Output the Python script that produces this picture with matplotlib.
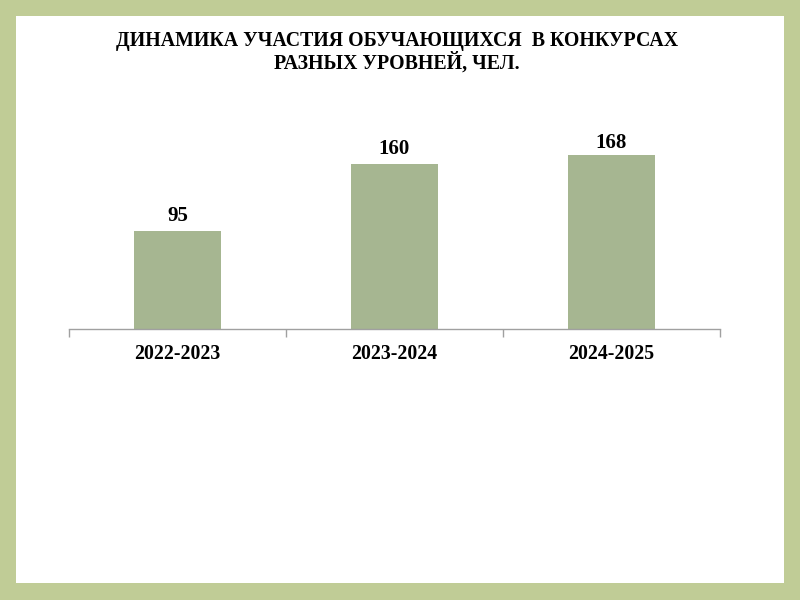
import matplotlib
matplotlib.use("Agg")
import matplotlib.pyplot as plt
from matplotlib.patches import Rectangle

years = ["2022-2023", "2023-2024", "2024-2025"]
counts = [95, 160, 168]
title = "ДИНАМИКА УЧАСТИЯ ОБУЧАЮЩИХСЯ  В КОНКУРСАХ\nРАЗНЫХ УРОВНЕЙ, ЧЕЛ."

W, H = 800, 600
fig = plt.figure(figsize=(8, 6), dpi=100)
fig.patch.set_facecolor("#C0CC96")
fig.patches.append(Rectangle((16 / W, 17 / H), (W - 32) / W, (H - 33) / H,
                             transform=fig.transFigure, facecolor="white",
                             edgecolor="none", zorder=-1))

serif = ["Liberation Serif", "DejaVu Serif"]
bar_color = "#A6B691"

# axes: baseline at y=329 px, x from 69 to 720 px, top at y=143 px (ylim 180)
ax = fig.add_axes([69 / W, 1 - 329 / H, 651 / W, 186 / H])
ax.set_zorder(1)
ax.set_facecolor("none")
x = range(len(years))
bars = ax.bar(x, counts, width=0.4, color=bar_color, zorder=2)
ax.set_xlim(-0.5, len(years) - 0.5)
ax.set_ylim(0, 180)

# labels sit above the bars but are kept inside the plot area (like Excel)
for b, v in zip(bars, counts):
    ax.text(b.get_x() + b.get_width() / 2, min(v + 4.5, 170), str(v),
            ha="center", va="bottom", fontsize=15, fontweight="bold",
            family=serif)

for s in ["top", "right", "left"]:
    ax.spines[s].set_visible(False)
ax.spines["bottom"].set_color("#A0A0A0")
ax.spines["bottom"].set_linewidth(1)
ax.set_yticks([])
ax.set_xticks([-0.5, 0.5, 1.5, 2.5], minor=False)
ax.set_xticklabels([])
ax.tick_params(axis="x", length=6, color="#A0A0A0", width=1)
ax.set_xticks(list(x), minor=True)
ax.set_xticklabels(years, minor=True, fontsize=14.3, fontweight="bold",
                   family=serif)
ax.tick_params(axis="x", which="minor", length=0, pad=11)

fig.text(397 / W, 1 - 52 / H, title, ha="center", va="center", fontsize=14.3,
         fontweight="bold", family=serif, linespacing=1.05, zorder=2)

fig.savefig("out.png", dpi=100, facecolor=fig.get_facecolor())
